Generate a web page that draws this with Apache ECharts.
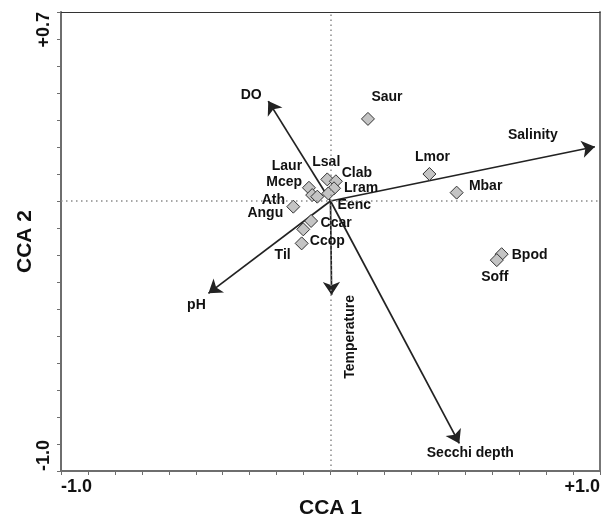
<!DOCTYPE html>
<html>
<head>
<meta charset="utf-8">
<script src="https://cdn.jsdelivr.net/npm/echarts@6/dist/echarts.min.js"></script>
<style>
html,body{margin:0;padding:0;background:#fff;}
#chart{width:602px;height:522px;}
</style>
</head>
<body>
<div id="chart"></div>
<script>
// ---- data ----
const species = ['Saur','Lmor','Mbar','Bpod','Soff','Lsal','Clab','Lram','Eenc','Laur','Mcep','Ath','Angu','Ccar','Ccop','Til'];
const speciesX = [0.139, 0.367, 0.468, 0.635, 0.617, -0.012, 0.020, 0.013, -0.008, -0.080, -0.068, -0.049, -0.138, -0.072, -0.101, -0.107];
const speciesY = [0.304, 0.100, 0.031, -0.197, -0.219, 0.080, 0.073, 0.047, 0.028, 0.049, 0.022, 0.016, -0.021, -0.074, -0.105, -0.157];
const variables = ['DO','Salinity','pH','Temperature','Secchi depth'];
const varX = [-0.231, 0.981, -0.453, 0.004, 0.478];
const varY = [0.370, 0.201, -0.342, -0.348, -0.898];
const xTickLabels = ['-1.0', '+1.0'];
const yTickLabels = ['-1.0', '+0.7'];
const xName = 'CCA 1';
const yName = 'CCA 2';

// ---- label placement (pixels, styling only) ----
const speciesLabelOffset = {
  Saur:[19,-22], Lmor:[3,-17], Mbar:[29,-6], Bpod:[28,1], Soff:[-2,17],
  Lsal:[-1,-17], Clab:[21,-8], Lram:[27,0], Eenc:[26,12], Laur:[-22,-22],
  Mcep:[-28,-13], Ath:[-44,3], Angu:[-28,6], Ccar:[25,2], Ccop:[24,12], Til:[-19,12]
};
// offsets in the label's own (possibly rotated) frame
const varLabelOffset = {
  'DO':[-17,-6], 'Salinity':[-62,-12], 'pH':[-12,12], 'Temperature':[-42,19], 'Secchi depth':[11,10]
};

const FONT = 'Liberation Sans, Arial, sans-serif';
const chart = echarts.init(document.getElementById('chart'), null, {renderer:'canvas'});

const speciesData = species.map((n,i)=>({
  name:n, value:[speciesX[i], speciesY[i]],
  label:{offset:speciesLabelOffset[n]}
}));
const arrowData = variables.map((n,i)=>({name:n, coords:[[0,0],[varX[i],varY[i]]]}));
const varLabelData = variables.map((n,i)=>({
  name:n, value:[varX[i], varY[i]],
  label:{offset:varLabelOffset[n], rotate: n==='Temperature'?90:0}
}));

function fmtX(v){ if (Math.abs(v+1)<1e-6) return xTickLabels[0]; if (Math.abs(v-1)<1e-6) return xTickLabels[1]; return ''; }
function fmtY(v){ if (Math.abs(v+1)<1e-6) return yTickLabels[0]; if (Math.abs(v-0.7)<1e-6) return yTickLabels[1]; return ''; }

const option = {
  animation:false,
  backgroundColor:'#fff',
  grid:{left:61, right:2, top:12, bottom:51, containLabel:false, outerBoundsMode:'none'},
  xAxis:[{
    type:'value', min:-1, max:1, interval:0.1,
    name:xName, nameLocation:'middle', nameGap:27, nameMoveOverlap:false,
    nameTextStyle:{fontFamily:FONT, fontWeight:'bold', fontSize:21, color:'#111'},
    axisLine:{show:true, onZero:false, lineStyle:{color:'#6e6e6e', width:2}},
    axisTick:{show:true, inside:false, length:4, lineStyle:{color:'#6e6e6e', width:1}},
    axisLabel:{show:true, formatter:fmtX, margin:7, fontFamily:FONT, fontWeight:'bold', fontSize:18, color:'#111',
      alignMinLabel:'left', alignMaxLabel:'right', showMinLabel:true, showMaxLabel:true, hideOverlap:false},
    splitLine:{show:false}
  },{
    type:'value', min:-1, max:1, position:'top',
    axisLine:{show:true, onZero:false, lineStyle:{color:'#333', width:1.2}},
    axisTick:{show:false}, axisLabel:{show:false}, splitLine:{show:false}
  }],
  yAxis:[{
    type:'value', min:-1, max:0.7, interval:0.1,
    name:yName, nameLocation:'middle', nameGap:25, nameRotate:90, nameMoveOverlap:false,
    nameTextStyle:{fontFamily:FONT, fontWeight:'bold', fontSize:21, color:'#111'},
    axisLine:{show:true, onZero:false, lineStyle:{color:'#6e6e6e', width:2}},
    axisTick:{show:true, inside:false, length:4, lineStyle:{color:'#6e6e6e', width:1}},
    axisLabel:{show:true, formatter:fmtY, margin:8, rotate:90, fontFamily:FONT, fontWeight:'bold', fontSize:18, color:'#111',
      verticalAlign:'bottom', alignMinLabel:'left', alignMaxLabel:'right', showMinLabel:true, showMaxLabel:true, hideOverlap:false},
    splitLine:{show:false}
  },{
    type:'value', min:-1, max:0.7, position:'right',
    axisLine:{show:true, onZero:false, lineStyle:{color:'#777', width:2}},
    axisTick:{show:false}, axisLabel:{show:false}, splitLine:{show:false}
  }],
  series:[
    {
      type:'scatter', name:'axes0', data:[], z:1, silent:true,
      markLine:{
        silent:true, symbol:['none','none'], label:{show:false},
        lineStyle:{color:'#8a8a8a', width:1.5, type:[1.5,3.5]},
        data:[{xAxis:0},{yAxis:0}]
      }
    },
    {
      type:'lines', name:'vectors', coordinateSystem:'cartesian2d', z:3, silent:true,
      symbol:['none','arrow'], symbolSize:[0,13],
      lineStyle:{color:'#222', width:1.7, opacity:1, curveness:0},
      data:arrowData
    },
    {
      type:'scatter', name:'species', z:4, silent:true,
      symbol:'diamond', symbolSize:13,
      itemStyle:{color:'#c4c4c4', borderColor:'#333', borderWidth:1, opacity:1},
      label:{show:true, position:'inside', formatter:'{b}', fontFamily:FONT, fontWeight:'bold', fontSize:14, color:'#111', align:'center', verticalAlign:'middle'},
      data:speciesData
    },
    {
      type:'scatter', name:'varLabels', z:2, silent:true,
      symbol:'circle', symbolSize:1,
      itemStyle:{color:'#ffffff', opacity:1},
      label:{show:true, position:'inside', formatter:'{b}', fontFamily:FONT, fontWeight:'bold', fontSize:14, color:'#111', opacity:1, align:'center', verticalAlign:'middle'},
      data:varLabelData
    }
  ]
};
chart.setOption(option);
</script>
</body>
</html>
